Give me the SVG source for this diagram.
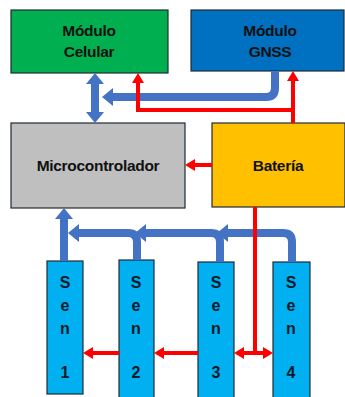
<svg xmlns="http://www.w3.org/2000/svg" width="345" height="397" viewBox="0 0 345 397">
<style>
.box{stroke:#1f2a36;stroke-width:1.2}
.t{font-family:"Liberation Sans",Arial,sans-serif;font-weight:bold;font-size:15.5px;fill:#111;text-anchor:middle;letter-spacing:-0.3px}
.s{font-family:"Liberation Sans",Arial,sans-serif;font-weight:bold;font-size:16px;fill:#0b1a2a;text-anchor:middle}
.b{fill:none;stroke:#4472c4;stroke-width:8}
.r{fill:none;stroke:#ff0000;stroke-width:4}
</style>
<defs>
<marker id="ba" markerUnits="userSpaceOnUse" markerWidth="11" markerHeight="18" viewBox="0 0 11 18" refX="0" refY="9" orient="auto-start-reverse"><path d="M0,0 L11,9 L0,18 z" fill="#4472c4"/></marker>
<marker id="ra" markerUnits="userSpaceOnUse" markerWidth="10" markerHeight="12" viewBox="0 0 10 12" refX="0" refY="6" orient="auto-start-reverse"><path d="M0,0 L10,6 L0,12 z" fill="#ff0000"/></marker>
</defs>
<rect width="345" height="397" fill="#fff"/>
<g id="celular"><rect class="box" x="11" y="10" width="157" height="63" fill="#00b050"/><text class="t" x="89" y="36">Módulo</text><text class="t" x="89" y="57">Celular</text></g>
<g id="gnss"><rect class="box" x="191" y="10" width="153" height="61" fill="#0070c0"/><text class="t" x="270" y="36">Módulo</text><text class="t" x="270" y="57">GNSS</text></g>
<g id="micro"><rect class="box" x="11" y="123" width="174" height="85" fill="#bfbfbf"/><text class="t" x="98" y="171">Microcontrolador</text></g>
<g id="bateria"><rect class="box" x="212" y="123" width="133" height="84" fill="#ffc000"/><text class="t" x="278" y="171">Batería</text></g>
<g id="sen1"><rect class="box" x="47" y="261" width="36" height="133" fill="#00b0f0"/><text class="s" x="65" y="288">S</text><text class="s" x="65" y="311">e</text><text class="s" x="65" y="334">n</text><text class="s" x="65" y="378">1</text></g>
<g id="sen2"><rect class="box" x="119" y="260" width="35" height="141" fill="#00b0f0"/><text class="s" x="136" y="288">S</text><text class="s" x="136" y="311">e</text><text class="s" x="136" y="334">n</text><text class="s" x="136" y="378">2</text></g>
<g id="sen3"><rect class="box" x="198" y="262" width="36" height="139" fill="#00b0f0"/><text class="s" x="216" y="288">S</text><text class="s" x="216" y="311">e</text><text class="s" x="216" y="334">n</text><text class="s" x="216" y="378">3</text></g>
<g id="sen4"><rect class="box" x="273" y="262" width="37" height="139" fill="#00b0f0"/><text class="s" x="291" y="288">S</text><text class="s" x="291" y="311">e</text><text class="s" x="291" y="334">n</text><text class="s" x="291" y="378">4</text></g>
<g id="connectors">
<path class="b" d="M95,84 V112" marker-start="url(#ba)" marker-end="url(#ba)"/>
<path class="b" d="M275,71 V88 Q275,97 266,97 H113" marker-end="url(#ba)"/>
<path class="r" d="M293,123 V81" marker-end="url(#ra)"/>
<path class="r" d="M293,110 H138 V83" marker-end="url(#ra)"/>
<path class="r" d="M212,165 H195" marker-end="url(#ra)"/>
<path class="b" d="M292,262 V242 Q292,233 283,233 H228" marker-end="url(#ba)"/>
<path class="b" d="M220,262 V242 Q220,233 211,233 H146" marker-end="url(#ba)"/>
<path class="b" d="M137,260 V242 Q137,233 128,233 H79" marker-end="url(#ba)"/>
<path class="b" d="M64,261 V219" marker-end="url(#ba)"/>
<path class="r" d="M255,207 V352"/>
<path class="r" d="M244,353 H263" marker-start="url(#ra)" marker-end="url(#ra)"/>
<path class="r" d="M198,353 H164" marker-end="url(#ra)"/>
<path class="r" d="M119,353 H93" marker-end="url(#ra)"/>
</g>
</svg>
